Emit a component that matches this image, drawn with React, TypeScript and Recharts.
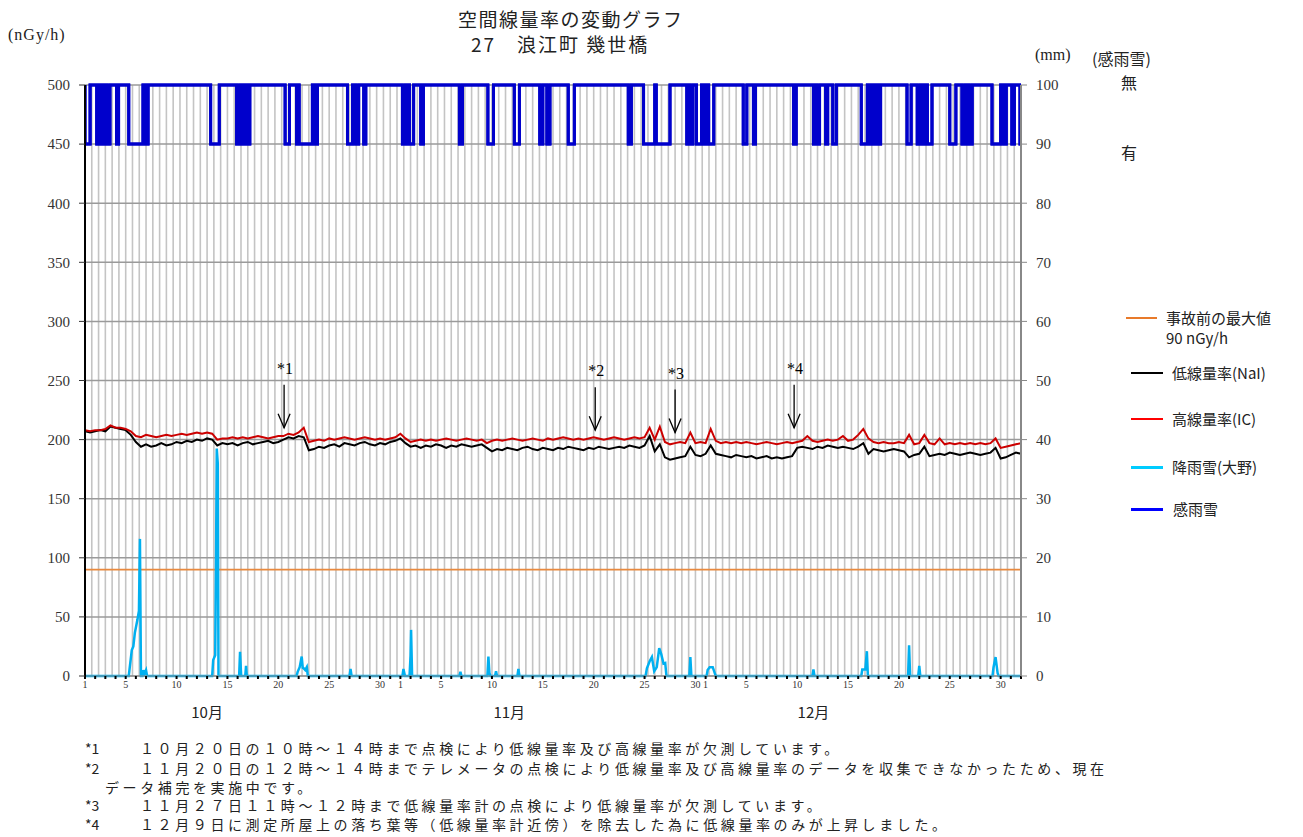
import React from 'react';
import { ComposedChart, Line, XAxis, YAxis, CartesianGrid, ReferenceLine, Scatter } from 'recharts';

const NUMFONT = '"Liberation Serif", "Noto Sans CJK JP", serif';
const JFONT = '"Noto Sans CJK JP", "Liberation Serif", serif';

// Calendar / tick labels
const monthNames = ['10月', '11月', '12月'];
const monthLengths = [31, 30, 31];
const labeledDates = [1, 5, 10, 15, 20, 25, 30];
const monthLabelDays = [12, 41.7, 71.6];
const totalDays = 92;

const leftTicks = [0, 50, 100, 150, 200, 250, 300, 350, 400, 450, 500];
const rightTicks = [0, 10, 20, 30, 40, 50, 60, 70, 80, 90, 100];
const preAccidentMax = 90;

// Dose rates, one reading every half day (nGy/h)
const doseStep = 0.5;
const naiValues = [
  207, 206, 207, 208, 207, 211, 210, 209, 208, 204,
  198, 194, 196, 194, 195, 197, 195, 196, 198, 197, 199, 198, 200, 199, 201, 200,
  195, 197,
  196, 197, 195, 197, 198, 196, 197, 198, 199, 197, 198,
  200, 202, 201, 203, 202,
  191,
  192, 194, 193, 195, 196, 194, 197, 196, 195, 197, 198, 196, 195, 197, 196, 198, 199,
  201, 197,
  194, 195, 193, 195, 194, 196, 195, 193, 195, 194, 196, 195, 194, 195, 196,
  193,
  190, 192, 191, 193, 192, 191, 193, 194, 192, 191, 193, 192, 191, 193, 192, 194, 193, 192, 191, 193, 192, 194, 193, 192, 193, 194, 193, 195, 194, 193, 195,
  203, 190, 196, 185, 183,
  184, 185, 186,
  194,
  187, 186, 188,
  195, 188,
  187, 186, 185, 187, 186, 185, 186, 184, 185, 186, 184, 185, 184, 185,
  186, 193,
  194, 193, 192, 194, 193, 195, 194, 193, 194, 193, 192,
  194, 197, 188, 192,
  191, 190, 191, 192, 191, 190,
  185,
  187, 188, 194, 186, 187, 188, 187, 189, 188, 187, 188, 189, 188, 187, 188, 189,
  193, 184, 185, 187, 189, 188,
];
const icValues = [
  208, 207, 208, 208, 209, 212, 210, 210, 209, 207,
  203, 202, 204, 203, 202, 203, 204, 203, 204, 205, 204, 205, 206, 205, 206, 205,
  200, 201,
  201, 202, 201, 202, 201, 202, 203, 202, 201, 202, 203,
  203, 205, 204, 206, 210,
  198,
  199, 200, 199, 201, 200, 201, 202, 201, 200, 201, 202, 201, 200, 201, 200, 201, 202,
  205, 201,
  198, 199, 200, 199, 200, 199, 200, 201, 200, 199, 200, 201, 200, 199, 200,
  197,
  199, 200, 199, 200, 201, 200, 199, 200, 201, 200, 199, 201, 200, 201, 202, 201, 200, 201, 200, 201, 202, 201, 200, 201, 202, 201, 200, 201, 202, 201, 202,
  210, 200, 211, 198, 196,
  197, 198, 197,
  206,
  197, 198, 197,
  209, 199,
  197, 198, 197, 198, 197, 198, 197, 196, 197, 198, 197, 196, 197, 198,
  197, 198,
  199, 203, 199, 198, 199, 200, 199, 200, 203, 199, 200,
  204, 209, 201, 198,
  197, 198, 197, 197, 198, 197,
  204,
  196, 197, 204, 197, 196, 201, 196, 197, 196, 197, 196, 197, 196, 197, 196, 197,
  201, 193, 194, 195, 196, 197,
];

// Precipitation (Ono), [day, mm]
const rainMm: [number, number][] = [
  [0, 0], [4.3, 0], [4.6, 4.4], [4.75, 5.0], [4.9, 7.3], [5.15, 9.5], [5.3, 11], [5.4, 23.2], [5.5, 0],
  [5.65, 0], [5.73, 1.0], [5.85, 0.4], [6.0, 1.0], [6.1, 0],
  [12.5, 0], [12.6, 2.7], [12.8, 3.5], [12.88, 20], [12.95, 38.5], [13.05, 36], [13.12, 0],
  [15.15, 0], [15.24, 4.1], [15.35, 0], [15.75, 0], [15.83, 1.7], [15.9, 0],
  [20.8, 0], [20.9, 0.7], [21.1, 1.5], [21.3, 3.3], [21.4, 1.4], [21.5, 1.3], [21.65, 1.0], [21.8, 1.5], [21.9, 0],
  [26.0, 0], [26.1, 1.2], [26.2, 0],
  [31.2, 0], [31.3, 1.2], [31.45, 0], [31.9, 0], [32.0, 3.5], [32.05, 7.8], [32.15, 0],
  [36.8, 0], [36.9, 0.7], [37.0, 0],
  [39.55, 0], [39.65, 3.3], [39.75, 0.5], [39.85, 0], [40.3, 0], [40.4, 0.8], [40.5, 0],
  [42.5, 0], [42.6, 1.2], [42.7, 0],
  [55.1, 0], [55.23, 1.3], [55.5, 2.5], [55.72, 3.2], [55.95, 0.8], [56.2, 1.5], [56.44, 4.7], [56.64, 3.7], [56.86, 2.1], [57.03, 2.2], [57.15, 0],
  [59.4, 0], [59.5, 3.2], [59.6, 0],
  [61.1, 0], [61.2, 1.0], [61.4, 1.5], [61.7, 1.5], [61.9, 0.5], [62.0, 0],
  [71.5, 0], [71.6, 1.1], [71.7, 0],
  [76.3, 0], [76.4, 1.1], [76.7, 1.1], [76.85, 4.2], [76.95, 0],
  [80.9, 0], [81.0, 5.2], [81.1, 0],
  [81.9, 0], [82.0, 1.7], [82.1, 0],
  [89.2, 0], [89.3, 1.5], [89.5, 3.2], [89.7, 0.5], [89.8, 0],
  [92, 0],
];

// Rain/snow sensor: intervals (days) when precipitation was sensed
const rainSenseIntervals: [number, number][] = [
  [0, 0.5],
  [1.15, 1.35], [1.45, 1.7], [1.8, 2.05], [2.15, 2.45],
  [3.1, 3.3],
  [4.3, 5.7], [5.8, 5.95], [6.0, 6.2],
  [12.35, 13.2],
  [14.9, 15.2], [15.3, 15.55], [15.65, 15.9], [16.0, 16.2],
  [19.67, 20.1],
  [20.8, 20.95], [21.05, 22.35],
  [22.6, 22.85],
  [25.8, 26.3],
  [26.6, 26.9],
  [27.4, 27.6],
  [31.2, 31.5], [31.6, 31.8], [31.9, 32.3],
  [33.0, 33.26],
  [36.8, 37.1],
  [39.6, 40.15],
  [42.2, 42.7],
  [44.7, 45.0],
  [45.4, 45.7],
  [47.5, 48.1],
  [53.4, 53.7],
  [54.9, 56.0], [56.15, 57.5],
  [59.15, 59.35], [59.45, 59.75],
  [60.1, 60.6], [60.7, 60.9], [61.0, 61.2], [61.3, 61.8],
  [64.7, 65.05],
  [65.7, 65.9],
  [69.65, 69.9],
  [71.6, 71.8], [71.9, 72.2],
  [72.8, 73.0],
  [73.5, 73.85],
  [76.3, 76.9], [77.0, 77.2], [77.3, 77.5], [77.6, 77.8],
  [78.0, 78.2],
  [80.8, 81.2],
  [81.8, 82.1], [82.2, 82.4], [82.5, 82.7], [82.8, 83.25],
  [85.0, 85.6],
  [86.2, 86.5], [86.6, 86.8], [86.9, 87.2],
  [89.15, 90.0],
  [90.3, 90.55],
  [91.1, 91.35],
  [91.9, 92],
];
const senseNone = 100;
const senseYes = 90;

const annotations = [
  { t: 19.57, v: 210, label: '*1' },
  { t: 50.15, v: 208, label: '*2' },
  { t: 58.0, v: 206, label: '*3' },
  { t: 69.7, v: 210, label: '*4' },
];

const footnotes: [string, string[]][] = [
  ['*1', ['１０月２０日の１０時～１４時まで点検により低線量率及び高線量率が欠測しています。']],
  ['*2', ['１１月２０日の１２時～１４時までテレメータの点検により低線量率及び高線量率のデータを収集できなかったため、現在', 'データ補完を実施中です。']],
  ['*3', ['１１月２７日１１時～１２時まで低線量率計の点検により低線量率が欠測しています。']],
  ['*4', ['１２月９日に測定所屋上の落ち葉等（低線量率計近傍）を除去した為に低線量率のみが上昇しました。']],
];

// Build series
const naiData = naiValues.map((v, i) => ({ t: i * doseStep, v }));
const icData = icValues.map((v, i) => ({ t: i * doseStep, v }));
const rainData = rainMm.map(([t, v]) => ({ t, v }));
const senseData: { t: number; v: number }[] = [{ t: 0, v: senseNone }];
rainSenseIntervals.forEach(([a, b]) => {
  senseData.push({ t: a, v: senseNone }, { t: a, v: senseYes }, { t: b, v: senseYes }, { t: b, v: senseNone });
});
senseData.push({ t: totalDays, v: senseNone });

const dayTicks = Array.from({ length: totalDays + 1 }, (_, i) => i);
const dayLabel = (d: number) => {
  let off = 0;
  for (let m = 0; m < monthLengths.length; m++) {
    if (d < off + monthLengths[m]) {
      const date = d - off + 1;
      return labeledDates.includes(date) ? String(date) : '';
    }
    off += monthLengths[m];
  }
  return '';
};

const ArrowShape = (p: any) => {
  const { cx, cy, payload } = p;
  return (
    <g>
      <line x1={cx} y1={cy - 43} x2={cx} y2={cy} stroke="#000" strokeWidth={1.3} />
      <polyline points={`${cx - 6},${cy - 14} ${cx},${cy} ${cx + 6},${cy - 14}`} fill="none" stroke="#000" strokeWidth={1.3} />
      <text x={cx + 1} y={cy - 54} textAnchor="middle" fontSize={16} fontFamily={NUMFONT} fill="#000">{payload.label}</text>
    </g>
  );
};

const MonthTick = (p: any) => {
  const { x, y, payload } = p;
  const idx = monthLabelDays.indexOf(payload.value);
  return (
    <text x={x} y={y + 12} textAnchor="middle" fontSize={15} fontFamily={JFONT} fill="#222">
      {monthNames[idx] ?? ''}
    </text>
  );
};

const legendItems = [
  { color: '#E87A2A', w: 2, x1: 1126, x2: 1157, y: 318, tx: 1166, lines: ['事故前の最大値', '90 nGy/h'] },
  { color: '#000000', w: 2, x1: 1131, x2: 1163, y: 373, tx: 1172, lines: ['低線量率(NaI)'] },
  { color: '#FF0000', w: 2, x1: 1131, x2: 1163, y: 419, tx: 1172, lines: ['高線量率(IC)'] },
  { color: '#00CCFF', w: 3, x1: 1131, x2: 1163, y: 467, tx: 1172, lines: ['降雨雪(大野)'] },
  { color: '#0000FF', w: 3, x1: 1131, x2: 1163, y: 509, tx: 1173, lines: ['感雨雪'] },
];

export default function App() {
  const abs = (x: number, y: number, extra: React.CSSProperties = {}): React.CSSProperties => ({
    position: 'absolute', left: x, top: y, whiteSpace: 'nowrap', fontFamily: JFONT, color: '#222', ...extra,
  });
  return (
    <div style={{ position: 'absolute', left: 0, top: 0, width: 1303, height: 837, background: '#fff', overflow: 'hidden' }}>
      <ComposedChart
        width={1303}
        height={837}
        margin={{ top: 85, right: 222, bottom: 101, left: 25 }}
        style={{ position: 'absolute', left: 0, top: 0 }}
      >
        <CartesianGrid
          yAxisId="L"
          horizontal={false}
          stroke="#c4c4c4"
          strokeWidth={1.6}
          verticalCoordinatesGenerator={(p: any) => {
            const o = p.offset;
            return Array.from({ length: 137 }, (_, i) => o.left + ((i + 1) * o.width) / 138);
          }}
        />
        <CartesianGrid yAxisId="L" vertical={false} stroke="#9a9a9a" strokeWidth={1.5} />
        <XAxis
          dataKey="t"
          type="number"
          domain={[0, totalDays]}
          ticks={dayTicks}
          interval={0}
          allowDataOverflow
          tickFormatter={dayLabel}
          height={30}
          tickSize={3}
          tickMargin={2}
          stroke="#888"
          axisLine={{ stroke: '#888', strokeWidth: 1 }}
          tickLine={{ stroke: '#000', strokeWidth: 2 }}
          tick={{ fontSize: 10, fill: '#333', fontFamily: NUMFONT }}
        />
        <XAxis
          xAxisId="month"
          dataKey="t"
          type="number"
          domain={[0, totalDays]}
          allowDataOverflow
          ticks={monthLabelDays}
          interval={0}
          height={30}
          axisLine={false}
          tickLine={false}
          tickSize={0}
          tickMargin={0}
          tick={<MonthTick />}
        />
        <YAxis
          yAxisId="L"
          orientation="left"
          domain={[0, 500]}
          ticks={leftTicks}
          interval={0}
          width={60}
          tickSize={6}
          tickMargin={9}
          axisLine={{ stroke: '#000', strokeWidth: 2 }}
          tickLine={{ stroke: '#333', strokeWidth: 1 }}
          tick={{ fontSize: 15, fill: '#333', fontFamily: NUMFONT }}
        />
        <YAxis
          yAxisId="R"
          orientation="right"
          domain={[0, 100]}
          ticks={rightTicks}
          interval={0}
          width={60}
          tickSize={6}
          tickMargin={9}
          axisLine={{ stroke: '#888', strokeWidth: 2 }}
          tickLine={{ stroke: '#888', strokeWidth: 1 }}
          tick={{ fontSize: 15, fill: '#333', fontFamily: NUMFONT }}
        />
        <ReferenceLine yAxisId="L" y={preAccidentMax} stroke="#E8893E" strokeWidth={1.6} />
        <Line data={rainData} dataKey="v" yAxisId="R" type="linear" stroke="#00B0F0" strokeWidth={2.5} dot={false} isAnimationActive={false} />
        <Line data={naiData} dataKey="v" yAxisId="L" type="linear" stroke="#000000" strokeWidth={2} dot={false} isAnimationActive={false} />
        <Line data={icData} dataKey="v" yAxisId="L" type="linear" stroke="#CC0000" strokeWidth={2} dot={false} isAnimationActive={false} />
        <Line data={senseData} dataKey="v" yAxisId="R" type="linear" stroke="#0000CC" strokeWidth={3} dot={false} isAnimationActive={false} />
        <Line data={senseData} dataKey="v" xAxisId="month" yAxisId="R" type="linear" stroke="#0000CC" strokeWidth={3} dot={false} isAnimationActive={false} legendType="none" />
        <Scatter data={annotations} dataKey="v" yAxisId="L" shape={ArrowShape} isAnimationActive={false} />
      </ComposedChart>

      <div style={abs(458, 5, { fontSize: 19, letterSpacing: 1.5, color: '#222' })}>空間線量率の変動グラフ</div>
      <div style={abs(471, 30, { fontSize: 19, letterSpacing: 2, color: '#222' })}>27　浪江町 幾世橋</div>
      <div style={abs(8, 26, { fontSize: 16, letterSpacing: 1, fontFamily: NUMFONT })}>(nGy/h)</div>
      <div style={abs(1035, 46, { fontSize: 16, fontFamily: NUMFONT })}>(mm)</div>
      <div style={abs(1092, 46, { fontSize: 16 })}>(感雨雪)</div>
      <div style={abs(1121, 70, { fontSize: 16 })}>無</div>
      <div style={abs(1121, 140, { fontSize: 16 })}>有</div>

      {legendItems.map((it, k) => (
        <React.Fragment key={k}>
          <div style={{ position: 'absolute', left: it.x1, top: it.y - it.w / 2, width: it.x2 - it.x1, height: it.w, background: it.color }} />
          {it.lines.map((ln, j) => (
            <div key={j} style={abs(it.tx, it.y - 11 + j * 20, { fontSize: 15 })}>{ln}</div>
          ))}
        </React.Fragment>
      ))}

      {(() => {
        const rows: React.ReactNode[] = [];
        const ys = [738, 758, 777, 795, 814];
        let r = 0;
        footnotes.forEach(([mark, lines], k) => {
          lines.forEach((ln, j) => {
            rows.push(
              <React.Fragment key={`${k}-${j}`}>
                {j === 0 && <div style={abs(85, ys[r], { fontSize: 14 })}>{mark}</div>}
                <div style={abs(j === 0 ? 140 : 105, ys[r], { fontSize: 14, letterSpacing: 3.6 })}>{ln}</div>
              </React.Fragment>
            );
            r++;
          });
        });
        return rows;
      })()}
    </div>
  );
}
